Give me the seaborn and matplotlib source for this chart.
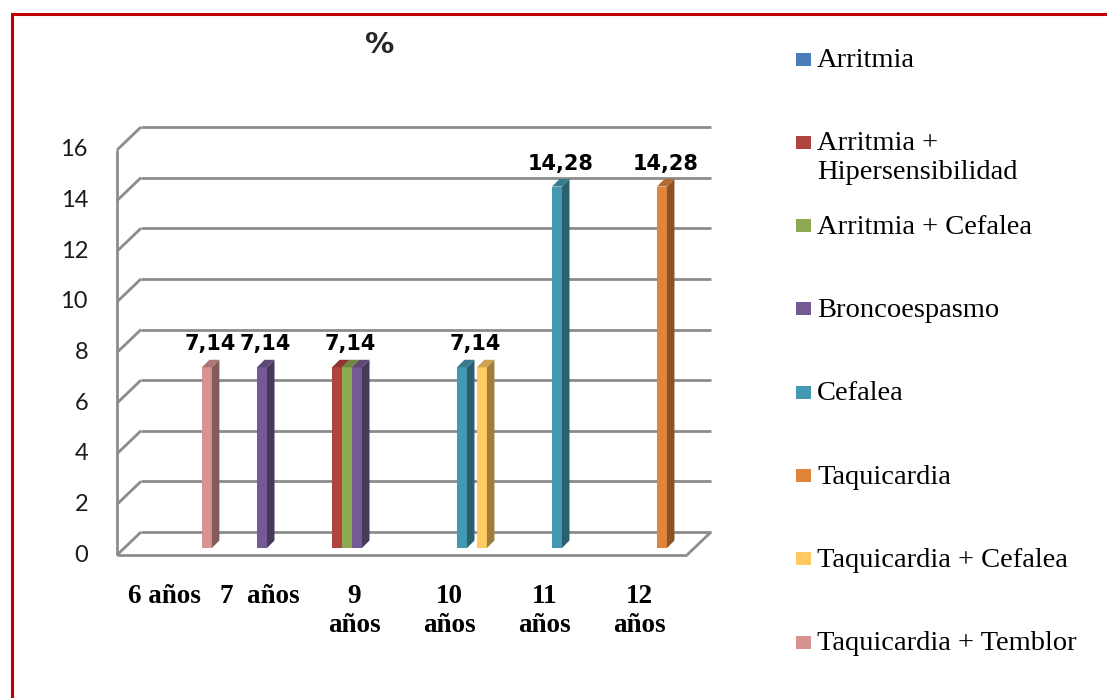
import numpy as np
import pandas as pd
import matplotlib
matplotlib.use("Agg")
import matplotlib.pyplot as plt
from matplotlib.patches import Polygon, Rectangle
from matplotlib.colors import to_rgb
import seaborn as sns

# ---- data -------------------------------------------------------------
edades = ["6 años", "7  años", "9 años", "10 años", "11 años", "12 años"]
etiquetas_edad = ["6 años", "7  años", "9\naños", "10\naños", "11\naños", "12\naños"]

series = [
    "Arritmia",
    "Arritmia + Hipersensibilidad",
    "Arritmia + Cefalea",
    "Broncoespasmo",
    "Cefalea",
    "Taquicardia",
    "Taquicardia + Cefalea",
    "Taquicardia + Temblor",
]
etiquetas_series = [
    "Arritmia",
    "Arritmia +\nHipersensibilidad",
    "Arritmia + Cefalea",
    "Broncoespasmo",
    "Cefalea",
    "Taquicardia",
    "Taquicardia + Cefalea",
    "Taquicardia + Temblor",
]

arritmia = [0, 0, 0, 0, 0, 0]
arritmia_hipersens = [0, 0, 7.14, 0, 0, 0]
arritmia_cefalea = [0, 0, 7.14, 0, 0, 0]
broncoespasmo = [0, 7.14, 7.14, 0, 0, 0]
cefalea = [0, 0, 0, 7.14, 14.28, 0]
taquicardia = [0, 0, 0, 0, 0, 14.28]
taquicardia_cefalea = [0, 0, 0, 7.14, 0, 0]
taquicardia_temblor = [7.14, 0, 0, 0, 0, 0]

valores = [arritmia, arritmia_hipersens, arritmia_cefalea, broncoespasmo,
           cefalea, taquicardia, taquicardia_cefalea, taquicardia_temblor]

colores = ["#4A7EBB", "#B0453F", "#8DAA50", "#745A95",
           "#4399B2", "#E0843A", "#FFCA62", "#D69391"]

y_ticks = [0, 2, 4, 6, 8, 10, 12, 14, 16]

df = pd.DataFrame(
    [(e, s, v) for s, vals in zip(series, valores) for e, v in zip(edades, vals)],
    columns=["edad", "serie", "valor"],
)

# ---- figure -------------------------------------------------------------
W, H = 1107, 698
sns.set_style("white")
fig = plt.figure(figsize=(W / 100, H / 100), dpi=100)
fig.patch.set_facecolor("white")

# plane where the bars stand (pixel box of the plotting area)
left_px, right_px, base_px, top_px = 124.5, 694.5, 548, 143
ax = fig.add_axes([left_px / W, 1 - base_px / H,
                   (right_px - left_px) / W, (base_px - top_px) / H])

sns.barplot(data=df, x="edad", y="valor", hue="serie",
            order=edades, hue_order=series, palette=colores,
            width=0.84, dodge=True, errorbar=None, saturation=1,
            linewidth=0, legend=False, ax=ax)

ax.set_xlim(-0.5, 5.5)
ax.set_ylim(0, 16)
ax.set_axis_off()

ux = 6.0 / (right_px - left_px)    # data units per pixel, x
uy = 16.0 / (base_px - top_px)     # data units per pixel, y
PT = 0.72                          # points per pixel at 100 dpi


def off(x, y, dxp, dyp):
    return x + dxp * ux, y + dyp * uy


# wall / floor depth offsets in pixels (front and back planes)
FX, FY = -7.5, -7.0
BX, BY = 16.5, 16.0
grid_kw = dict(color="#8C8C8C", lw=2.0, solid_capstyle="butt",
               clip_on=False, zorder=0.5)

x0, x1 = -0.5, 5.5
for v in y_ticks:
    fx, fy = off(x0, v, FX, FY)
    bx, by = off(x0, v, BX, BY)
    bx2, _ = off(x1, v, BX, BY)
    ax.plot([bx, bx2], [by, by], **grid_kw)      # back wall line
    ax.plot([fx, bx], [fy, by], **grid_kw)       # side wall line

# front-left edge of the side wall
fxa, fya = off(x0, 0, FX, FY)
_, fyb = off(x0, 16, FX, FY)
ax.plot([fxa, fxa], [fya, fyb], **grid_kw)
# front and right edges of the floor
fxr, _ = off(x1, 0, FX, FY)
bxr, byr = off(x1, 0, BX, BY)
ax.plot([fxa, fxr], [fya, fya], **grid_kw)
ax.plot([fxr, bxr], [fya, byr], **grid_kw)

# ---- 3D faces for the bars -----------------------------------------------
D = 7.5  # bar depth in pixels
bars = [p for p in ax.patches if p.get_height() > 0]
for p in bars:
    xb, w, h = p.get_x(), p.get_width(), p.get_height()
    base = np.array(to_rgb(p.get_facecolor()))
    z = 3 + (xb + 1) * 0.01
    p.set_zorder(z)
    dx, dy = D * ux, D * uy
    side = Polygon([(xb + w, 0), (xb + w, h), (xb + w + dx, h + dy), (xb + w + dx, dy)],
                   closed=True, facecolor=base * 0.62, edgecolor="none", zorder=z)
    top = Polygon([(xb, h), (xb + w, h), (xb + w + dx, h + dy), (xb + dx, h + dy)],
                  closed=True, facecolor=base * 0.8, edgecolor="none", zorder=z)
    ax.add_patch(side)
    ax.add_patch(top)

# ---- value labels -----------------------------------------------------------
for i, edad in enumerate(edades):
    grupo = [p for p in bars if abs(p.get_x() + p.get_width() / 2 - i) < 0.5]
    if not grupo:
        continue
    cx = np.mean([p.get_x() + p.get_width() / 2 for p in grupo]) + D * ux / 2
    val = max(p.get_height() for p in grupo)
    ax.annotate(f"{val:.2f}".replace(".", ","), xy=(cx, val),
                xytext=(0, 17 * PT), textcoords="offset points",
                ha="center", va="baseline", fontsize=15, fontweight="bold",
                family="DejaVu Sans", color="black", zorder=10,
                annotation_clip=False)

# ---- y tick labels (front plane) -------------------------------------------
for v in y_ticks:
    fx, fy = off(x0, v, FX, FY)
    ax.annotate(str(v), xy=(fx, fy), xytext=(-29 * PT, 0),
                textcoords="offset points", ha="right", va="center",
                fontsize=17, family="Lato", color="#1A1A1A",
                annotation_clip=False)

# ---- category labels (one text per line, fixed baseline pitch) --------------
for i, lab in enumerate(etiquetas_edad):
    cx, cy = off(i, 0, FX, FY)
    for j, linea in enumerate(lab.split("\n")):
        ax.annotate(linea, xy=(cx, cy), xytext=(0, -(48 + 29 * j) * PT),
                    textcoords="offset points", ha="center", va="baseline",
                    fontsize=19.5, fontweight="bold", family="Liberation Serif",
                    color="black", annotation_clip=False)

# ---- title ---------------------------------------------------------------------
fig.text(380 / W, 1 - 45 / H, "%", ha="center", va="center",
         fontsize=21, fontweight="bold", family="DejaVu Sans")

# ---- legend --------------------------------------------------------------------
row0, step = 59, 83.3
for k, (lab, col) in enumerate(zip(etiquetas_series, colores)):
    yc = row0 + k * step
    fig.add_artist(Rectangle((796 / W, 1 - (yc + 6.5) / H), 15 / W, 13 / H,
                             transform=fig.transFigure, facecolor=col,
                             edgecolor="none"))
    for j, linea in enumerate(lab.split("\n")):
        fig.text(817 / W, 1 - (yc + 8 + 29 * j) / H, linea, ha="left",
                 va="baseline", fontsize=20.5, family="Liberation Serif",
                 color="black")

# ---- chart frame -----------------------------------------------------------------
fig.add_artist(Rectangle((11.5 / W, -0.1), 1.2, 1.1 - 14.5 / H,
                         transform=fig.transFigure, fill=False,
                         edgecolor="#C00000", lw=2.2))

fig.savefig("out.png", dpi=100)
